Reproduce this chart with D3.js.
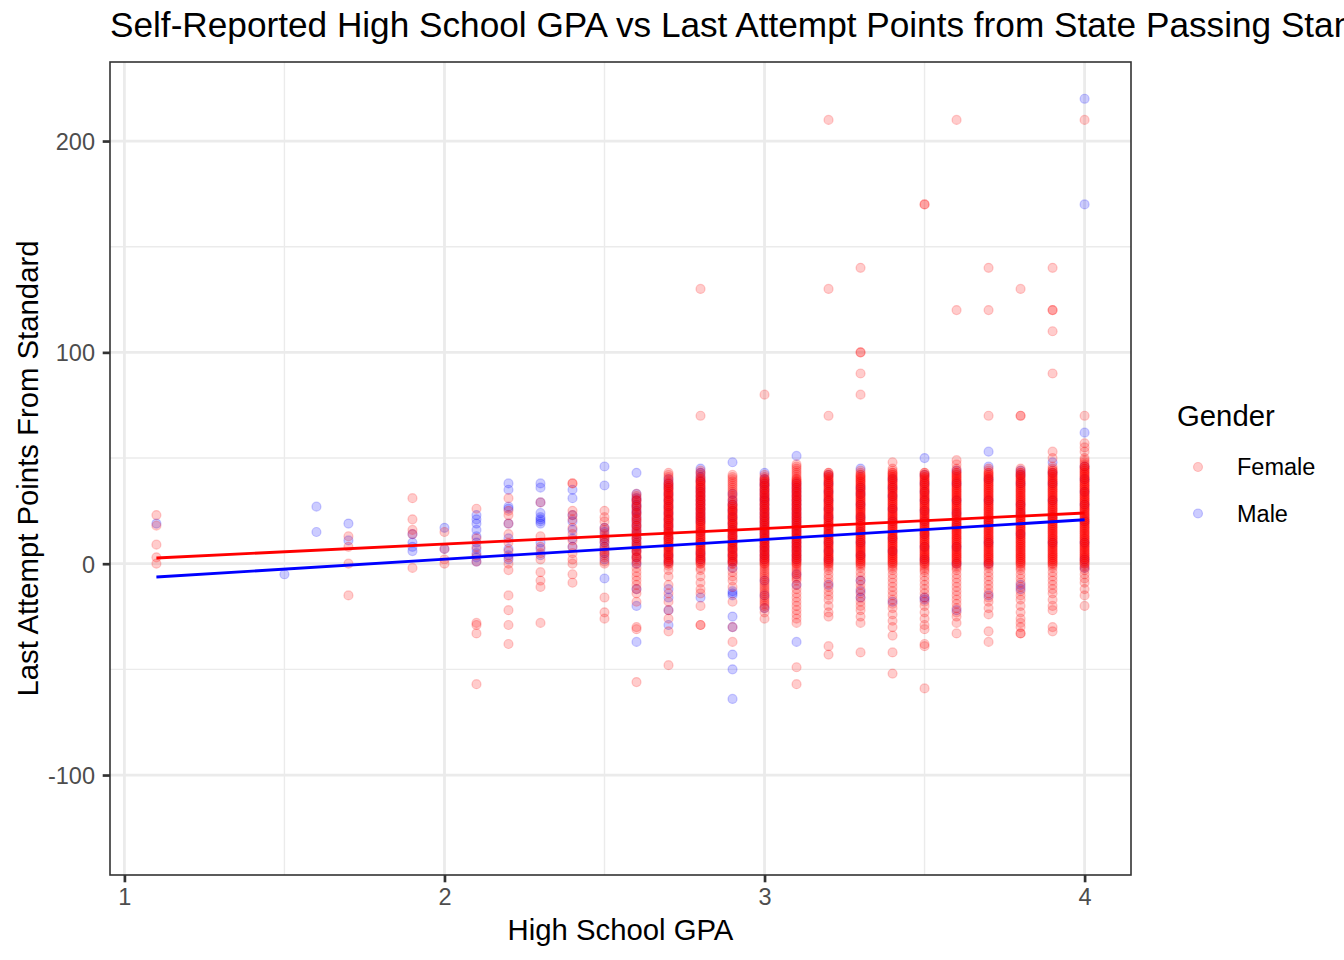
<!DOCTYPE html>
<meta charset="utf-8">

<!-- Load d3.js -->
<script src="https://d3js.org/d3.v7.min.js"></script>

<style>
  body { margin: 0; background: #ffffff; }
  text { font-family: "Liberation Sans", Arial, Helvetica, sans-serif; }
</style>

<!-- Create a div where the graph will take place -->
<div id="my_dataviz"></div>

<script>

// GPA columns (x values) and the score points
var gpaLevels = [1.1, 1.5, 1.6, 1.7, 1.9, 2.0, 2.1, 2.2, 2.3, 2.4, 2.5, 2.6, 2.7, 2.8, 2.9, 3.0, 3.1, 3.2, 3.3, 3.4, 3.5, 3.6, 3.7, 3.8, 3.9, 4.0];

var femaleScores = [
  [23, 18, 9, 3, 0],
  [],
  [],
  [13, 8, 0, -15],
  [31, 21, 16, 14, -2],
  [15, 7, 2, 0],
  [26, 12, 8, 4, 1, -28, -29, -33, -57],
  [31, 25, 23, 19, 14, 10, 6, 3, 0, -3, -15, -22, -29, -38],
  [29, 13, 8, 5, 2, -4, -8, -11, -28],
  [38, 38, 25, 23, 21, 17, 14, 11, 8, 5, 2, 0, -5, -9],
  [25, 22, 20, 17, 16, 14, 13, 12, 11, 10, 8, 7, 6, 5, 4, 3, 1, 0, -16, -23, -26],
  // 2.6
  [0,1,2,3,4,5,6,7,8,9,10,11,12,13,14,15,16,17,18,19,20,21,22,23,24,25,26,27,28,29,30,31,32,33,
   30, 27, 24, 21, 18, 15, 12, 9, 6, 3, -2, -4, -6, -8, -10, -12, -14, -18, -30, -31, -56],
  // 2.7
  [0,1,2,3,4,5,6,7,8,9,10,11,12,13,14,15,16,17,18,19,20,21,22,23,24,25,26,27,28,29,30,31,32,33,34,35,36,37,38,39,40,41,42,43,
   0,1,2,3,4,5,6,7,8,9,10,11,12,13,14,15,16,17,18,19,20,21,22,23,24,25,26,27,28,29,30,31,32,33,34,35,36,37,38,
   -1, -3, -6, -10, -14, -18, -22, -26, -32, -48],
  // 2.8
  [130, 70,
   0,1,2,3,4,5,6,7,8,9,10,11,12,13,14,15,16,17,18,19,20,21,22,23,24,25,26,27,28,29,30,31,32,33,34,35,36,37,38,39,40,41,42,43,44,
   0,1,2,3,4,5,6,7,8,9,10,11,12,13,14,15,16,17,18,19,20,21,22,23,24,25,26,27,28,29,30,31,32,33,34,35,36,37,38,39,40,
   -2, -3, -6, -9, -12, -14, -20, -29, -29],
  // 2.9
  [0,1,2,3,4,5,6,7,8,9,10,11,12,13,14,15,16,17,18,19,20,21,22,23,24,25,26,27,28,29,30,31,32,33,34,35,36,37,38,39,40,41,42,
   0,1,2,3,4,5,6,7,8,9,10,11,12,13,14,15,16,17,18,19,20,21,22,23,24,25,26,27,28,
   -2, -4, -6, -8, -11, -18, -30, -37],
  // 3.0
  [80,
   0,1,2,3,4,5,6,7,8,9,10,11,12,13,14,15,16,17,18,19,20,21,22,23,24,25,26,27,28,29,30,31,32,33,34,35,36,37,38,39,40,41,42,
   0,1,2,3,4,5,6,7,8,9,10,11,12,13,14,15,16,17,18,19,20,21,22,23,24,25,26,27,28,29,30,31,32,33,34,35,36,37,38,39,40,
   -1,-2,-3,-4,-5,-6,-7,-8,-9,-10,-11,-12,-13,-14,-15,-16,-17,-18,-19,-20,-21,-23,-26],
  // 3.1
  [0,1,2,3,4,5,6,7,8,9,10,11,12,13,14,15,16,17,18,19,20,21,22,23,24,25,26,27,28,29,30,31,32,33,34,35,36,37,38,39,40,41,42,43,44,45,46,47,
   0,1,2,3,4,5,6,7,8,9,10,11,12,13,14,15,16,17,18,19,20,21,22,23,24,25,26,27,28,29,30,31,32,33,34,35,36,37,38,39,40,
   -1,-2,-3,-4,-5,-6,-7,-8,-10,-12,-14,-16,-18,-20,-22,-24,-26,-28,-49,-57],
  // 3.2
  [210, 130, 70,
   0,1,2,3,4,5,6,7,8,9,10,11,12,13,14,15,16,17,18,19,20,21,22,23,24,25,26,27,28,29,30,31,32,33,34,35,36,37,38,39,40,41,42,43,
   0,1,2,3,4,5,6,7,8,9,10,11,12,13,14,15,16,17,18,19,20,21,22,23,24,25,26,27,28,29,30,31,32,33,34,35,36,37,38,39,40,41,42,43,
   -1,-2,-3,-5,-7,-9,-11,-13,-15,-17,-20,-23,-25,-39,-43],
  // 3.3
  [140, 100, 100, 90, 80,
   0,1,2,3,4,5,6,7,8,9,10,11,12,13,14,15,16,17,18,19,20,21,22,23,24,25,26,27,28,29,30,31,32,33,34,35,36,37,38,39,40,41,42,43,44,
   0,1,2,3,4,5,6,7,8,9,10,11,12,13,14,15,16,17,18,19,20,21,22,23,24,25,26,27,28,29,30,31,32,33,34,35,36,37,38,39,40,41,42,
   -1,-2,-4,-6,-8,-10,-12,-14,-16,-18,-20,-22,-25,-28,-42],
  // 3.4
  [48,
   0,1,2,3,4,5,6,7,8,9,10,11,12,13,14,15,16,17,18,19,20,21,22,23,24,25,26,27,28,29,30,31,32,33,34,35,36,37,38,39,40,41,42,43,44,45,
   0,1,2,3,4,5,6,7,8,9,10,11,12,13,14,15,16,17,18,19,20,21,22,23,24,25,26,27,28,29,30,31,32,33,34,35,36,37,38,39,40,41,42,43,
   -1,-2,-3,-5,-7,-9,-11,-13,-15,-17,-19,-21,-24,-27,-30,-34,-42,-52],
  // 3.5
  [170, 170,
   0,1,2,3,4,5,6,7,8,9,10,11,12,13,14,15,16,17,18,19,20,21,22,23,24,25,26,27,28,29,30,31,32,33,34,35,36,37,38,39,40,41,42,43,
   0,1,2,3,4,5,6,7,8,9,10,11,12,13,14,15,16,17,18,19,20,21,22,23,24,25,26,27,28,29,30,31,32,33,34,35,36,37,38,39,40,41,42,43,
   -1,-2,-3,-4,-6,-8,-10,-12,-14,-16,-18,-20,-23,-26,-29,-31,-38,-39,-59],
  // 3.6
  [210, 120, 49, 47,
   0,1,2,3,4,5,6,7,8,9,10,11,12,13,14,15,16,17,18,19,20,21,22,23,24,25,26,27,28,29,30,31,32,33,34,35,36,37,38,39,40,41,42,43,44,45,
   0,1,2,3,4,5,6,7,8,9,10,11,12,13,14,15,16,17,18,19,20,21,22,23,24,25,26,27,28,29,30,31,32,33,34,35,36,37,38,39,40,41,42,43,
   -1,-2,-3,-5,-7,-9,-11,-13,-15,-17,-19,-21,-23,-25,-28,-33],
  // 3.7
  [140, 120, 70,
   0,1,2,3,4,5,6,7,8,9,10,11,12,13,14,15,16,17,18,19,20,21,22,23,24,25,26,27,28,29,30,31,32,33,34,35,36,37,38,39,40,41,42,43,44,45,
   0,1,2,3,4,5,6,7,8,9,10,11,12,13,14,15,16,17,18,19,20,21,22,23,24,25,26,27,28,29,30,31,32,33,34,35,36,37,38,39,40,41,42,43,
   -1,-2,-4,-6,-8,-10,-12,-14,-16,-18,-21,-24,-32,-37],
  // 3.8
  [130, 70, 70,
   0,1,2,3,4,5,6,7,8,9,10,11,12,13,14,15,16,17,18,19,20,21,22,23,24,25,26,27,28,29,30,31,32,33,34,35,36,37,38,39,40,41,42,43,44,45,
   0,1,2,3,4,5,6,7,8,9,10,11,12,13,14,15,16,17,18,19,20,21,22,23,24,25,26,27,28,29,30,31,32,33,34,35,36,37,38,39,40,41,42,43,
   -1,-2,-3,-5,-7,-9,-11,-13,-15,-17,-20,-23,-26,-28,-30,-33,-33],
  // 3.9
  [140, 120, 120, 110, 90, 53, 50,
   0,1,2,3,4,5,6,7,8,9,10,11,12,13,14,15,16,17,18,19,20,21,22,23,24,25,26,27,28,29,30,31,32,33,34,35,36,37,38,39,40,41,42,43,44,45,46,
   0,1,2,3,4,5,6,7,8,9,10,11,12,13,14,15,16,17,18,19,20,21,22,23,24,25,26,27,28,29,30,31,32,33,34,35,36,37,38,39,40,41,42,43,44,
   -1,-2,-4,-6,-8,-10,-12,-14,-17,-20,-22,-30,-32],
  // 4.0
  [210, 70, 57, 55, 53,
   0,1,2,3,4,5,6,7,8,9,10,11,12,13,14,15,16,17,18,19,20,21,22,23,24,25,26,27,28,29,30,31,32,33,34,35,36,37,38,39,40,41,42,43,44,45,46,47,48,49,50,
   0,1,2,3,4,5,6,7,8,9,10,11,12,13,14,15,16,17,18,19,20,21,22,23,24,25,26,27,28,29,30,31,32,33,34,35,36,37,38,39,40,41,42,43,44,45,46,
   -1,-2,-3,-5,-7,-9,-12,-15,-20]
];

var maleScores = [
  [19],
  [-5],
  [27, 15],
  [19, 11],
  [14, 10, 8, 6],
  [17, 7],
  [23, 21, 19, 16, 13, 10, 7, 5, 3, 1],
  [38, 35, 27, 26, 19, 12, 7, 4, 2],
  [38, 36, 29, 24, 22, 21, 20, 19, 10, 7, 4],
  [35, 31, 23, 20, 16, 12, 8],
  [46, 37, 17, 15, 12, 10, 8, 5, 2, -7],
  [43, 33, 31, 30, 28, 27, 25, 24, 22, 20, 18, 16, 14, 12, 10, 8, 6, 3, 0, -12, -20, -37],
  [40, 38, 36, 33, 30, 27, 24, 21, 18, 15, 12, 8, 4, 1, -12, -16, -22, -29],
  [45, 43, 41, 39, 36, 34, 32, 30, 28, 26, 24, 22, 20, 15, 10, 5, 2, -16],
  [48, 33, 30, 28, 25, 22, 19, 16, 13, 10, 7, 4, 1, -2, -13, -14, -15, -25, -30, -43, -50, -64],
  [43, 40, 38, 37, 35, 33, 31, 30, 28, 26, 24, 22, 20, 18, 16, 14, 12, 10, 8, 6, 4, 2, -8, -15, -21],
  [51, 38, 36, 34, 32, 30, 28, 26, 24, 22, 20, 18, 16, 14, 12, 10, 8, 6, 4, 2, -5, -10, -37],
  [42, 38, 34, 30, 26, 22, 18, 14, 10, 6, 2, -10],
  [45, 36, 33, 28, 22, 15, 10, 4, -8, -13, -16],
  [40, 36, 32, 26, 20, 12, 6, -18],
  [50, 42, 38, 34, 30, 25, 20, 14, 8, 2, -16, -17],
  [44, 38, 30, 24, 18, 8, 0, -22],
  [53, 46, 40, 30, 20, 10, 0, -15],
  [44, 42, 38, 28, 24, 14, -10, -12],
  [48, 43, 38, 30, 22, 10],
  [220, 170, 62, 46, 40, 34, 28, 20, 10, 2, -2]
];

// linear fit lines (end points)
var femaleFit = [[1.1, 2.7], [4.0, 24.0]];
var maleFit = [[1.1, -6.3], [4.0, 20.8]];

var xTicks = [1, 2, 3, 4];
var xMinorTicks = [1.5, 2.5, 3.5];
var yTicks = [-100, 0, 100, 200];
var yMinorTicks = [-50, 50, 150];

var genders = ["Female", "Male"];
var genderColors = ["#FF0000", "#0000FF"];

// set the dimensions and margins of the graph
var margin = {top: 62, right: 213, bottom: 85, left: 110},
    width = 1344 - margin.left - margin.right,
    height = 960 - margin.top - margin.bottom;

var svg = d3.select("#my_dataviz")
  .append("svg")
    .attr("width", 1344)
    .attr("height", 960);

svg.append("rect")
  .attr("width", 1344)
  .attr("height", 960)
  .attr("fill", "#ffffff");

var g = svg.append("g")
  .attr("transform", "translate(" + margin.left + "," + margin.top + ")");

var x = d3.scaleLinear()
  .domain([0.955, 4.145])
  .range([0, width]);

var y = d3.scaleLinear()
  .domain([-147.3, 237.4])
  .range([height, 0]);

var color = d3.scaleOrdinal()
  .domain(genders)
  .range(genderColors);

// grid lines, minor first then major
var grid = g.append("g");
grid.selectAll(".xminor").data(xMinorTicks).enter().append("line")
  .attr("x1", function(d) { return x(d); }).attr("x2", function(d) { return x(d); })
  .attr("y1", 0).attr("y2", height)
  .attr("stroke", "#EBEBEB").attr("stroke-width", 1.4);
grid.selectAll(".yminor").data(yMinorTicks).enter().append("line")
  .attr("y1", function(d) { return y(d); }).attr("y2", function(d) { return y(d); })
  .attr("x1", 0).attr("x2", width)
  .attr("stroke", "#EBEBEB").attr("stroke-width", 1.4);
grid.selectAll(".xmajor").data(xTicks).enter().append("line")
  .attr("x1", function(d) { return x(d); }).attr("x2", function(d) { return x(d); })
  .attr("y1", 0).attr("y2", height)
  .attr("stroke", "#EBEBEB").attr("stroke-width", 2.8);
grid.selectAll(".ymajor").data(yTicks).enter().append("line")
  .attr("y1", function(d) { return y(d); }).attr("y2", function(d) { return y(d); })
  .attr("x1", 0).attr("x2", width)
  .attr("stroke", "#EBEBEB").attr("stroke-width", 2.8);

// clip everything to the panel
g.append("clipPath").attr("id", "panel-clip")
  .append("rect").attr("width", width).attr("height", height);

var plot = g.append("g").attr("clip-path", "url(#panel-clip)");

// build the point list, male first so female sits on top
var points = [];
gpaLevels.forEach(function(gpa, i) {
  maleScores[i].forEach(function(v) { points.push({gpa: gpa, score: v, gender: "Male"}); });
});
gpaLevels.forEach(function(gpa, i) {
  femaleScores[i].forEach(function(v) { points.push({gpa: gpa, score: v, gender: "Female"}); });
});

plot.append("g")
  .selectAll("circle")
  .data(points)
  .enter().append("circle")
    .attr("cx", function(d) { return x(d.gpa); })
    .attr("cy", function(d) { return y(d.score); })
    .attr("r", 4.5)
    .attr("fill", function(d) { return color(d.gender); })
    .attr("fill-opacity", 0.2)
    .attr("stroke", function(d) { return color(d.gender); })
    .attr("stroke-opacity", 0.2)
    .attr("stroke-width", 1.2);

// fit lines
var line = d3.line()
  .x(function(d) { return x(d[0]); })
  .y(function(d) { return y(d[1]); });

plot.append("path").datum(femaleFit)
  .attr("d", line).attr("fill", "none")
  .attr("stroke", color("Female")).attr("stroke-width", 2.8);
plot.append("path").datum(maleFit)
  .attr("d", line).attr("fill", "none")
  .attr("stroke", color("Male")).attr("stroke-width", 2.8);

// panel border
g.append("rect")
  .attr("width", width).attr("height", height)
  .attr("fill", "none").attr("stroke", "#333333").attr("stroke-width", 1.6);

// axes (plain hyphen for negatives, like the reference)
var plainFormat = function(d) { return String(d); };

var xAxis = g.append("g")
  .attr("transform", "translate(0," + height + ")")
  .call(d3.axisBottom(x).tickValues(xTicks).tickFormat(plainFormat)
    .tickSize(7.3).tickPadding(6).tickSizeOuter(0));

var yAxis = g.append("g")
  .call(d3.axisLeft(y).tickValues(yTicks).tickFormat(plainFormat)
    .tickSize(7.3).tickPadding(7.7).tickSizeOuter(0));

[xAxis, yAxis].forEach(function(ax) {
  ax.select(".domain").remove();
  ax.attr("font-family", null).attr("font-size", null);
  ax.selectAll(".tick line").attr("stroke", "#333333").attr("stroke-width", 2.7);
  ax.selectAll(".tick text").attr("fill", "#4D4D4D").style("font-size", "23.5px");
});
yAxis.selectAll(".tick text").attr("dy", "0.36em");

// axis titles
svg.append("text")
  .attr("x", margin.left + width / 2)
  .attr("y", 940)
  .attr("text-anchor", "middle")
  .style("font-size", "29.3px")
  .attr("fill", "#000000")
  .text("High School GPA");

svg.append("text")
  .attr("transform", "translate(38," + (margin.top + height / 2) + ") rotate(-90)")
  .attr("text-anchor", "middle")
  .style("font-size", "29.3px")
  .attr("fill", "#000000")
  .text("Last Attempt Points From Standard");

// title (runs past the right edge, as in the reference)
svg.append("text")
  .attr("x", 110)
  .attr("y", 37)
  .style("font-size", "35.2px")
  .attr("fill", "#000000")
  .text("Self-Reported High School GPA vs Last Attempt Points from State Passing Standard");

// legend
var legend = svg.append("g");
legend.append("text")
  .attr("x", 1177).attr("y", 426)
  .style("font-size", "29.3px")
  .attr("fill", "#000000")
  .text("Gender");

var keys = legend.selectAll(".key")
  .data(genders)
  .enter().append("g")
    .attr("transform", function(d, i) { return "translate(0," + (467 + i * 46.5) + ")"; });

keys.append("circle")
  .attr("cx", 1198).attr("cy", 0).attr("r", 4.5)
  .attr("fill", function(d) { return color(d); })
  .attr("fill-opacity", 0.2)
  .attr("stroke", function(d) { return color(d); })
  .attr("stroke-opacity", 0.2)
  .attr("stroke-width", 1.2);

keys.append("text")
  .attr("x", 1237).attr("y", 8.4)
  .style("font-size", "23.5px")
  .attr("fill", "#000000")
  .text(function(d) { return d; });

</script>
